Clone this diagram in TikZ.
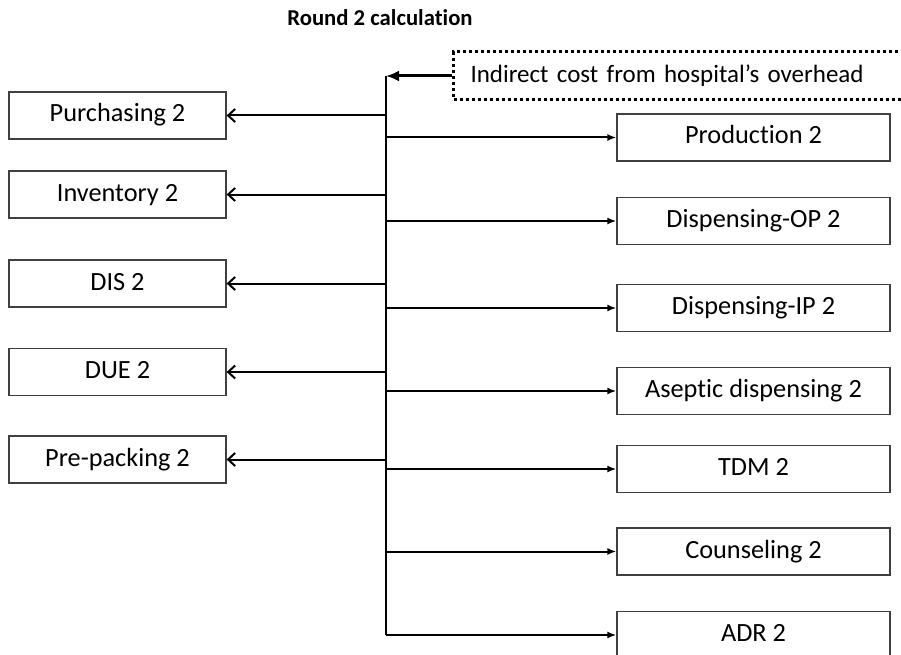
\documentclass[tikz,border=0pt]{standalone}
\usepackage{fontspec}
\setmainfont{Carlito}[Ligatures=NoCommon]
\usetikzlibrary{arrows.meta,positioning}
\tikzset{
  % unit boxes
  unit/.style={
    draw=black!75,
    line width=1.3pt,
    minimum height=47pt,
    inner sep=0pt,
    text height=18pt,
    text depth=5pt,
    font=\fontsize{26.3}{31}\selectfont
  },
  lunit/.style={unit, minimum width=217pt},
  runit/.style={unit, minimum width=273pt},
  % overhead box
  ovhbox/.style={
    draw,
    line width=3pt,
    dash pattern=on 3pt off 3pt,
    minimum height=48pt,
    anchor=west,
    text width=470pt,
    inner xsep=17pt,
    align=left,
    text height=18pt,
    text depth=5pt,
    font=\fontsize{25}{31}\selectfont
  },
  % lines and arrows
  trunk/.style={line width=2pt},
  larr/.style={line width=2pt, -{Straight Barb[length=7pt,width=13pt,line width=2pt]}},
  rarr/.style={line width=2pt, -{Latex[length=9pt,width=7pt]}},
  oarr/.style={line width=3pt, -{Latex[length=13pt,width=11pt]}},
}

\begin{document}
\begin{tikzpicture}[x=1pt,y=-1pt]
    \useasboundingbox (0,0) rectangle (901,655);
    \clip (0,0) rectangle (901,655);

    % Title
    \node[font=\fontsize{22.7}{27}\selectfont\bfseries] (title) at (380,18) {Round 2 calculation};

    % Overhead and trunk
    \node[ovhbox] (ovh) at (452,76) {Indirect cost from hospital’s overhead};
    \coordinate (top) at (386,76);
    \coordinate (bot) at (386,635);
    \draw[trunk] (top) -- (bot);
    \draw[oarr] (ovh.west) -- (top);

    % Left units
    \foreach \n/\y/\t in {purch/115.5/Purchasing 2, inv/194.5/Inventory 2,
                          dis/283.5/DIS 2, due/372/DUE 2, prepack/459.5/Pre-packing 2} {
        \node[lunit] (\n) at (117.5,\y) {\t};
        \draw[larr] (top |- \n) -- (\n.east);
    }

    % Right units
    \foreach \n/\y/\t in {prod/137.5/Production 2, dispop/221/Dispensing-OP 2,
                          dispip/308/Dispensing-IP 2, asep/391/Aseptic dispensing 2,
                          tdm/469/TDM 2, couns/551.5/Counseling 2, adr/635/ADR 2} {
        \node[runit] (\n) at (753.5,\y) {\t};
        \draw[rarr] (top |- \n) -- (\n.west);
    }
\end{tikzpicture}
\end{document}
